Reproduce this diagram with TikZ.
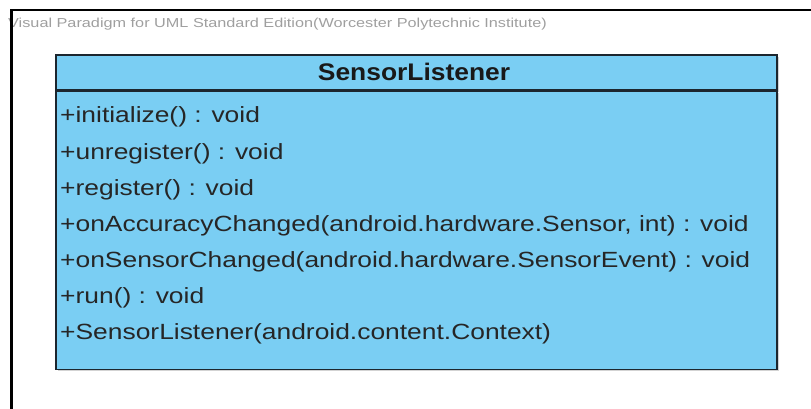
\documentclass[tikz,border=0pt]{standalone}
\usepackage{xcolor}
\usepackage{fontspec}
\setmainfont{Liberation Sans}
\newfontfamily\opfont[FakeStretch=1.2]{Liberation Sans}
\newfontfamily\headfont[FakeStretch=1.1]{Liberation Sans}
\newfontfamily\wmfont[FakeStretch=1.25]{Liberation Sans}
\usepackage{tikz}
\usetikzlibrary{positioning, shadows}
\definecolor{classblue}{RGB}{122,206,243}
\definecolor{classline}{RGB}{28,38,46}
\tikzset{
  classbox/.style={rectangle, draw=classline, line width=1.3pt, fill=classblue,
                   minimum width=721pt, inner sep=0pt,
                   drop shadow={shadow xshift=2pt, shadow yshift=-2pt, opacity=.35}},
  classhead/.style={classbox, minimum height=35pt},
  classbody/.style={classbox, minimum height=278pt},
  headtext/.style={font=\headfont\bfseries\fontsize{24}{28}\selectfont, inner sep=0pt, anchor=base, text=black!90},
  optext/.style={font=\opfont\fontsize{22}{26}\selectfont, inner sep=0pt, anchor=base west, text=black!85},
  watermark/.style={font=\wmfont\fontsize{13}{15}\selectfont, text=gray!75, inner sep=0pt, anchor=base west},
  frameline/.style={draw=black, line width=2.4pt},
}
\begin{document}
\begin{tikzpicture}[x=1pt, y=-1pt]
  \useasboundingbox (0,0) rectangle (811,409);

  %% diagram frame + watermark
  \node[watermark] (wm) at (8,28) {Visual Paradigm for UML Standard Edition(Worcester Polytechnic Institute)};
  \draw[frameline] (11.5,409) -- (11.5,10) -- (811,10);

  %% class box
  \node[classhead] (head) at (416.5,72.5) {};
  \node[classbody, below=0pt of head] (ops) {};
  \node[headtext] (name) at (414,80.5) {SensorListener};

  %% operations
  \node[optext] (op1) at (60,123) {+initialize() : void};
  \node[optext] (op2) at (60,159) {+unregister() : void};
  \node[optext] (op3) at (60,195) {+register() : void};
  \node[optext] (op4) at (60,231) {+onAccuracyChanged(android.hardware.Sensor, int) : void};
  \node[optext] (op5) at (60,267) {+onSensorChanged(android.hardware.SensorEvent) : void};
  \node[optext] (op6) at (60,303) {+run() : void};
  \node[optext] (op7) at (60,339) {+SensorListener(android.content.Context)};

\end{tikzpicture}
\end{document}
